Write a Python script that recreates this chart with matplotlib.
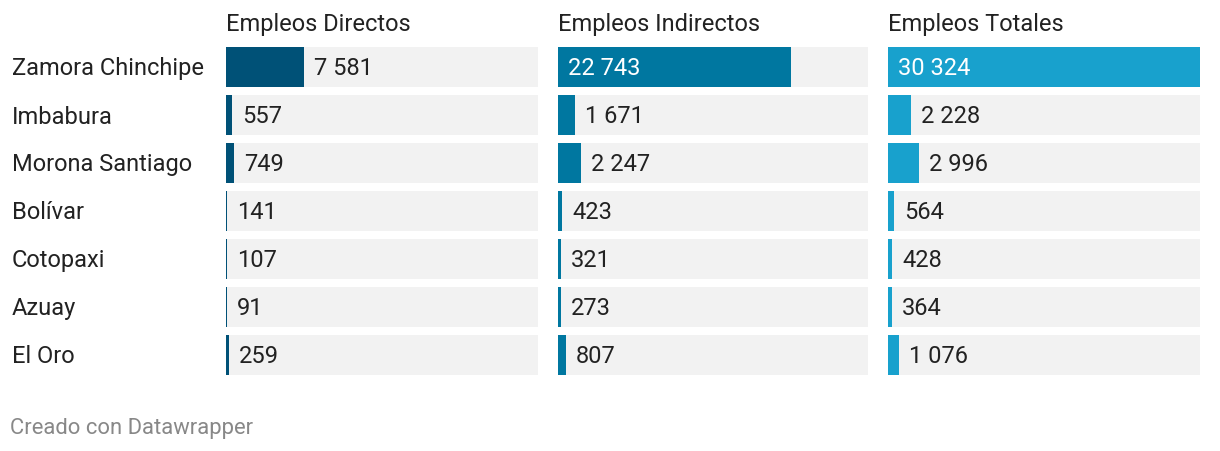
import matplotlib
matplotlib.use("Agg")
import matplotlib.pyplot as plt
from matplotlib.transforms import offset_copy

plt.rcParams['font.family'] = ['Roboto', 'DejaVu Sans']

# Datos
provincias = ['Zamora Chinchipe', 'Imbabura', 'Morona Santiago', 'Bolívar',
              'Cotopaxi', 'Azuay', 'El Oro']
titulos = ['Empleos Directos', 'Empleos Indirectos', 'Empleos Totales']
directos = [7581, 557, 749, 141, 107, 91, 259]
indirectos = [22743, 1671, 2247, 423, 321, 273, 807]
totales = [30324, 2228, 2996, 564, 428, 364, 1076]
series = [directos, indirectos, totales]

colores = ['#005177', '#0077a0', '#18a1cd']
fondo = '#f2f2f2'
maximo = max(totales)

W, H = 1220, 452
fig = plt.figure(figsize=(W / 100, H / 100), dpi=100)

# posiciones de los paneles (en pixeles)
paneles = [(226, 312), (558, 310), (888, 312)]
top, bottom = 48, 376
fs = 17

def fmt(v):
    return f'{v:,}'.replace(',', ' ')

for i, (x0, w) in enumerate(paneles):
    ax = fig.add_axes([x0 / W, 1 - bottom / H, w / W, (bottom - top) / H])
    ys = list(range(len(provincias)))
    ax.barh(ys, [maximo] * len(ys), height=40 / 48, color=fondo, left=0)
    ax.barh(ys, series[i], height=40 / 48, color=colores[i], left=0)
    ax.set_xlim(0, maximo)
    ax.set_ylim(len(ys) - 1 + 20 / 48, -20 / 48)
    ax.axis('off')
    tr = offset_copy(ax.transData, fig=fig, x=10, y=-1, units='dots')
    for y, v in zip(ys, series[i]):
        if v > 0.5 * maximo:
            ax.text(0, y, fmt(v), transform=tr, color='white', fontsize=fs,
                    va='center', ha='left')
        else:
            ax.text(v, y, fmt(v), transform=tr, color='#222222', fontsize=fs,
                    va='center', ha='left')
    fig.text(x0 / W, 1 - 24 / H, titulos[i], fontsize=fs, color='#222222',
             va='center', ha='left')

# etiquetas de filas
for j, nombre in enumerate(provincias):
    yc = 69 + 48 * j
    fig.text(12 / W, 1 - yc / H, nombre, fontsize=fs, color='#222222',
             va='center', ha='left')

fig.text(10 / W, 1 - 429 / H, 'Creado con Datawrapper', fontsize=15.8,
         color='#888888', va='center', ha='left')

fig.savefig('out.png', dpi=100, facecolor='white')
